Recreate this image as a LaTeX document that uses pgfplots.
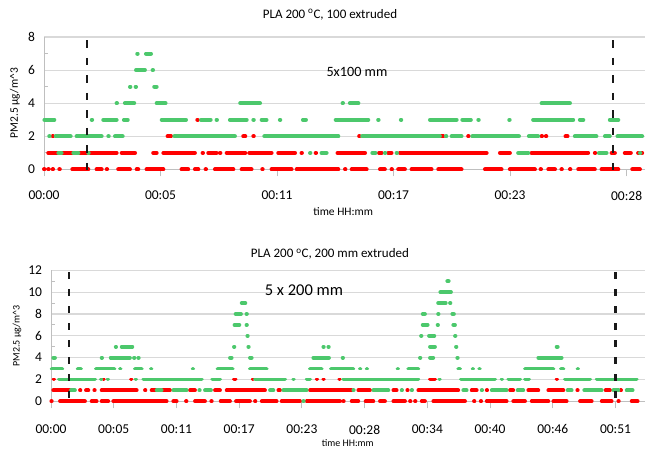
\documentclass[border=0pt]{standalone}
\usepackage{fontspec}
\setmainfont{Carlito}
\usepackage{pgfplots}
\pgfplotsset{compat=1.18}

\definecolor{pmgreen}{RGB}{76,200,108}
\definecolor{pmred}{RGB}{255,0,0}
\definecolor{gridgray}{RGB}{217,217,217}
\definecolor{axgray}{RGB}{191,191,191}

\pgfplotsset{
  pmpanel/.style={
    scale only axis,
    anchor=south west,
    enlargelimits=false,
    clip=false,
    axis x line*=bottom,
    axis y line*=left,
    axis line style={axgray, line width=0.9bp},
    ymajorgrids=true,
    grid style={gridgray, line width=1.1bp},
    tick align=outside,
    major tick length=7bp,
    minor tick length=4bp,
    major x tick style={axgray, line width=0.9bp},
    major y tick style={draw=none},
    minor y tick num=1,
    minor y tick style={axgray, line width=0.9bp, xshift=4bp},
    /pgf/number format/assume math mode=true,
    tick label style={font=\fontsize{13.5bp}{16bp}\selectfont},
    yticklabel style={xshift=1.5bp},
    title style={font=\fontsize{13bp}{16bp}\selectfont, anchor=base},
  },
  reddots/.style={pmred, line width=4bp, line cap=round, unbounded coords=jump},
  greendots/.style={pmgreen, line width=4bp, line cap=round, unbounded coords=jump},
  cutline/.style={black!90, line width=2.2bp, dash pattern=on 7.5bp off 10bp},
}

\begin{document}
\begin{tikzpicture}
\useasboundingbox (0,0) rectangle (646bp,450bp);

% ---------------- upper panel: 5x100 mm ----------------
\begin{axis}[pmpanel,
    at={(44bp,280.5bp)}, width=600.8bp, height=132.5bp,
    xmin=0, xmax=29.7, ymin=0, ymax=8,
    xtick={0,5.76,11.52,17.28,23.04,28.8},
    xticklabels={00:00,00:05,00:11,00:17,00:23,00:28},
    xticklabel style={yshift=-11bp},
    ytick={0,2,4,6,8},
    title={PLA 200 \textsuperscript{o}C, 100 extruded},
    title style={at={(axis description cs:0.476,1.098)}},
]
% red series
\addplot[reddots] coordinates {
(0,0)(0.02,0)(0,nan) (0.21,0)(0.23,0)(0,nan) (0.43,0)(0.45,0)(0,nan) (0.76,0)(0.78,0)(0,nan)
(1.40,0)(2.19,0)(0,nan) (2.60,0)(2.85,0)(0,nan) (3.10,0)(3.12,0)(0,nan) (3.67,0)(4.25,0)(0,nan)
(4.58,0)(4.66,0)(0,nan) (5.07,0)(5.90,0)(0,nan) (6.80,0)(7.13,0)(0,nan) (7.46,0)(7.63,0)(0,nan)
(7.99,0)(8.01,0)(0,nan) (8.45,0)(9.36,0)(0,nan) (9.77,0)(10.26,0)(0,nan) (10.79,0)(10.81,0)(0,nan)
(11.25,0)(12.24,0)(0,nan) (12.49,0)(14.55,0)(0,nan) (14.88,0)(14.90,0)(0,nan) (15.21,0)(15.95,0)(0,nan)
(16.61,0)(16.85,0)(0,nan) (17.18,0)(17.20,0)(0,nan) (17.51,0)(17.84,0)(0,nan) (18.17,0)(19.16,0)(0,nan)
(19.49,0)(20.64,0)(0,nan) (21.80,0)(22.62,0)(0,nan) (23.03,0)(24.27,0)(0,nan) (24.55,0)(24.57,0)(0,nan)
(24.93,0)(25.26,0)(0,nan) (25.58,0)(25.60,0)(0,nan) (26.00,0)(26.02,0)(0,nan) (26.41,0)(27.23,0)(0,nan)
(27.56,0)(28.39,0)(0,nan) (29.08,0)(29.46,0)(0,nan)
(0.21,1)(3.59,1)(0,nan) (3.84,1)(4.50,1)(0,nan) (5.40,1)(5.57,1)(0,nan) (5.90,1)(7.46,1)(0,nan)
(7.84,1)(7.86,1)(0,nan) (8.12,1)(8.53,1)(0,nan) (8.70,1)(8.72,1)(0,nan) (9.03,1)(9.95,1)(0,nan)
(10.15,1)(11.25,1)(0,nan) (11.58,1)(12.41,1)(0,nan) (12.73,1)(12.75,1)(0,nan) (13.43,1)(13.45,1)(0,nan)
(14.51,1)(15.87,1)(0,nan) (16.56,1)(16.69,1)(0,nan) (17.02,1)(17.18,1)(0,nan) (17.59,1)(21.88,1)(0,nan)
(22.54,1)(23.03,1)(0,nan) (24.10,1)(26.90,1)(0,nan) (27.23,1)(27.25,1)(0,nan) (28.06,1)(28.22,1)(0,nan)
(28.71,1)(29.01,1)(0,nan) (29.37,1)(29.57,1)(0,nan)
(0.43,2)(0.45,2)(0,nan) (6.11,2)(6.28,2)(0,nan) (9.85,2)(9.95,2)(0,nan) (10.35,2)(10.37,2)(0,nan)
(15.58,2)(15.60,2)(0,nan) (19.64,2)(19.74,2)(0,nan) (20.97,2)(20.99,2)(0,nan) (24.60,2)(24.62,2)(0,nan)
(24.81,2)(24.83,2)(0,nan) (25.78,2)(25.88,2)(0,nan)
(7.58,3)(7.60,3)
};
% green series
\addplot[greendots] coordinates {
(0.71,1)(0.87,1)(0,nan) (1.45,1)(1.70,1)(0,nan) (2.19,1)(2.21,1)(0,nan) (13.15,1)(13.17,1)(0,nan)
(13.72,1)(13.97,1)(0,nan) (16.23,1)(16.39,1)(0,nan) (16.85,1)(16.87,1)(0,nan) (17.43,1)(17.45,1)(0,nan)
(23.44,1)(23.94,1)(0,nan) (27.43,1)(27.81,1)(0,nan) (29.46,1)(29.48,1)(0,nan)
(0.26,2)(0.28,2)(0,nan) (0.58,2)(1.32,2)(0,nan) (1.61,2)(2.85,2)(0,nan) (3.18,2)(3.20,2)(0,nan)
(3.51,2)(3.89,2)(0,nan) (6.44,2)(9.44,2)(0,nan) (10.89,2)(14.55,2)(0,nan) (15.73,2)(19.57,2)(0,nan)
(19.87,2)(19.89,2)(0,nan) (20.15,2)(20.64,2)(0,nan) (21.17,2)(23.48,2)(0,nan) (23.97,2)(24.43,2)(0,nan)
(26.24,2)(27.31,2)(0,nan) (27.73,2)(27.97,2)(0,nan) (28.35,2)(29.57,2)(0,nan)
(0.02,3)(0.51,3)(0,nan) (2.36,3)(2.38,3)(0,nan) (2.93,3)(3.59,3)(0,nan) (3.95,3)(4.14,3)(0,nan)
(5.82,3)(7.02,3)(0,nan) (7.76,3)(8.24,3)(0,nan) (8.53,3)(8.55,3)(0,nan) (9.19,3)(10.02,3)(0,nan)
(10.35,3)(10.37,3)(0,nan) (10.76,3)(11.00,3)(0,nan) (11.66,3)(11.68,3)(0,nan) (12.80,3)(12.95,3)(0,nan)
(14.42,3)(16.03,3)(0,nan) (16.52,3)(16.54,3)(0,nan) (17.64,3)(17.66,3)(0,nan) (19.08,3)(20.40,3)(0,nan)
(20.68,3)(21.10,3)(0,nan) (21.47,3)(21.49,3)(0,nan) (23.00,3)(23.02,3)(0,nan) (24.18,3)(26.16,3)(0,nan)
(26.49,3)(26.66,3)(0,nan) (27.97,3)(28.39,3)(0,nan)
(3.59,4)(3.61,4)(0,nan) (4.00,4)(4.46,4)(0,nan) (5.57,4)(6.01,4)(0,nan) (9.70,4)(10.68,4)(0,nan)
(14.76,4)(14.78,4)(0,nan) (15.12,4)(15.54,4)(0,nan) (24.60,4)(26.00,4)(0,nan)
(4.25,5)(4.27,5)(0,nan) (4.53,5)(4.55,5)(0,nan) (5.45,5)(5.57,5)(0,nan)
(4.55,6)(4.99,6)(0,nan) (5.37,6)(5.39,6)(0,nan)
(4.61,7)(4.63,7)(0,nan) (5.04,7)(5.29,7)
};
% start / end of extrusion
\addplot[cutline] coordinates {(2.11,7.8) (2.11,-0.1)};
\addplot[cutline] coordinates {(28.14,7.8) (28.14,-0.1)};
\node[font=\fontsize{14.2bp}{17bp}\selectfont] at (axis cs:15.47,5.89) {5x100 mm};
\node[font=\fontsize{11.5bp}{13bp}\selectfont] at (axis description cs:0.498,-0.321) {time HH:mm};
\node[font=\fontsize{11.5bp}{13bp}\selectfont, rotate=90] at (axis description cs:-0.0483,0.5) {PM2.5 µg/m\textasciicircum 3};
\end{axis}

% ---------------- lower panel: 5 x 200 mm ----------------
\begin{axis}[pmpanel,
    at={(51bp,48.7bp)}, width=593.5bp, height=131bp,
    xmin=0, xmax=54.5, ymin=0, ymax=12,
    xtick={0,5.76,11.52,17.28,23.04,28.8,34.56,40.32,46.08,51.84},
    xticklabels={00:00,00:05,00:11,00:17,00:23,00:28,00:34,00:40,00:46,00:51},
    xticklabel style={yshift=-13bp},
    ytick={0,2,4,6,8,10,12},
    title={PLA 200 \textsuperscript{o}C, 200 mm extruded},
    title style={at={(axis description cs:0.47,1.053)}},
    reddots/.append style={line width=3.8bp},
    greendots/.append style={line width=3.8bp},
    cutline/.append style={dash pattern=on 7bp off 10bp},
]
% red series
\addplot[reddots] coordinates {
(0.03,0)(0.07,0)(0,nan) (0.83,0)(3.12,0)(0,nan) (3.73,0)(4.19,0)(0,nan) (4.65,0)(5.26,0)(0,nan)
(5.72,0)(10.62,0)(0,nan) (11.23,0)(11.54,0)(0,nan) (12.40,0)(12.44,0)(0,nan) (13.22,0)(14.14,0)(0,nan)
(14.72,0)(14.76,0)(0,nan) (15.58,0)(16.44,0)(0,nan) (16.99,0)(18.27,0)(0,nan) (18.73,0)(18.77,0)(0,nan)
(19.35,0)(20.72,0)(0,nan) (21.18,0)(22.87,0)(0,nan) (23.48,0)(26.54,0)(0,nan) (26.84,0)(26.88,0)(0,nan)
(27.61,0)(28.22,0)(0,nan) (28.89,0)(29.60,0)(0,nan) (30.21,0)(30.67,0)(0,nan) (31.44,0)(32.51,0)(0,nan)
(32.97,0)(33.01,0)(0,nan) (33.43,0)(33.47,0)(0,nan) (34.04,0)(34.34,0)(0,nan) (35.11,0)(38.02,0)(0,nan)
(38.84,0)(38.88,0)(0,nan) (39.46,0)(39.50,0)(0,nan) (40.01,0)(41.84,0)(0,nan) (42.45,0)(43.53,0)(0,nan)
(44.14,0)(45.67,0)(0,nan) (46.13,0)(47.35,0)(0,nan) (48.58,0)(49.65,0)(0,nan) (50.57,0)(51.48,0)(0,nan)
(52.10,0)(52.14,0)(0,nan) (53.32,0)(53.87,0)(0,nan)
(0.21,1)(1.74,1)(0,nan) (2.66,1)(2.70,1)(0,nan) (3.21,1)(3.43,1)(0,nan) (3.98,1)(4.02,1)(0,nan)
(4.65,1)(7.87,1)(0,nan) (8.63,1)(8.67,1)(0,nan) (9.24,1)(10.93,1)(0,nan) (12.76,1)(13.22,1)(0,nan)
(15.06,1)(15.52,1)(0,nan) (16.13,1)(19.65,1)(0,nan) (20.88,1)(21.03,1)(0,nan) (23.78,1)(27.61,1)(0,nan)
(28.22,1)(29.29,1)(0,nan) (31.44,1)(31.74,1)(0,nan) (32.72,1)(32.76,1)(0,nan) (33.73,1)(37.40,1)(0,nan)
(38.63,1)(39.09,1)(0,nan) (40.01,1)(40.05,1)(0,nan) (42.15,1)(42.45,1)(0,nan) (43.83,1)(44.75,1)(0,nan)
(45.67,1)(47.05,1)(0,nan) (48.33,1)(48.37,1)(0,nan) (50.93,1)(51.33,1)(0,nan) (52.31,1)(52.35,1)(0,nan)
(0.24,2)(0.28,2)(0,nan) (4.81,2)(4.85,2)(0,nan) (7.35,2)(7.39,2)(0,nan) (16.80,2)(16.95,2)(0,nan)
(18.52,2)(18.56,2)(0,nan) (24.40,2)(24.44,2)(0,nan) (25.01,2)(25.05,2)(0,nan) (26.48,2)(26.52,2)(0,nan)
(34.80,2)(35.26,2)(0,nan) (46.43,2)(46.47,2)(0,nan)
(32.96,3)(33.00,3)
};
% green series
\addplot[greendots] coordinates {
(23.17,0)(23.21,0)(0,nan)
(1.84,1)(2.20,1)(0,nan) (9.70,1)(10.16,1)(0,nan) (11.23,1)(12.46,1)(0,nan) (13.62,1)(13.66,1)(0,nan)
(14.14,1)(14.69,1)(0,nan) (20.11,1)(20.42,1)(0,nan) (21.33,1)(23.48,1)(0,nan) (27.76,1)(27.80,1)(0,nan)
(29.60,1)(30.98,1)(0,nan) (32.20,1)(32.24,1)(0,nan) (33.12,1)(33.16,1)(0,nan) (37.86,1)(38.17,1)(0,nan)
(39.55,1)(39.59,1)(0,nan) (40.47,1)(41.84,1)(0,nan) (42.85,1)(43.37,1)(0,nan) (47.44,1)(47.81,1)(0,nan)
(48.97,1)(50.57,1)(0,nan) (51.64,1)(52.10,1)(0,nan) (52.86,1)(53.41,1)(0,nan)
(0.73,2)(4.04,2)(0,nan) (4.59,2)(4.63,2)(0,nan) (5.20,2)(5.24,2)(0,nan) (7.77,2)(7.81,2)(0,nan)
(8.48,2)(13.84,2)(0,nan) (14.81,2)(15.52,2)(0,nan) (18.73,2)(21.49,2)(0,nan) (22.25,2)(22.29,2)(0,nan)
(23.48,2)(23.78,2)(0,nan) (26.84,2)(33.73,2)(0,nan) (35.66,2)(35.70,2)(0,nan) (37.65,2)(40.77,2)(0,nan)
(41.38,2)(41.42,2)(0,nan) (42.00,2)(43.07,2)(0,nan) (43.53,2)(43.89,2)(0,nan) (47.20,2)(49.50,2)(0,nan)
(50.11,2)(53.78,2)(0,nan)
(0.06,3)(1.04,3)(0,nan) (2.45,3)(2.75,3)(0,nan) (4.13,3)(5.82,3)(0,nan) (6.34,3)(6.38,3)(0,nan)
(7.71,3)(8.33,3)(0,nan) (9.18,3)(9.22,3)(0,nan) (13.01,3)(13.05,3)(0,nan) (15.30,3)(16.68,3)(0,nan)
(18.27,3)(19.80,3)(0,nan) (23.78,3)(24.85,3)(0,nan) (25.71,3)(27.76,3)(0,nan) (28.37,3)(28.41,3)(0,nan)
(28.99,3)(29.03,3)(0,nan) (31.83,3)(31.87,3)(0,nan) (32.81,3)(33.73,3)(0,nan) (37.40,3)(37.56,3)(0,nan)
(38.72,3)(38.76,3)(0,nan) (39.33,3)(39.37,3)(0,nan) (43.53,3)(46.13,3)(0,nan) (46.83,3)(47.05,3)(0,nan)
(48.36,3)(48.40,3)(0,nan)
(0.21,4)(0.37,4)(0,nan) (4.65,4)(4.69,4)(0,nan) (5.48,4)(7.25,4)(0,nan) (7.62,4)(7.66,4)(0,nan)
(8.02,4)(8.06,4)(0,nan) (16.44,4)(16.59,4)(0,nan) (18.27,4)(18.43,4)(0,nan) (24.09,4)(25.53,4)(0,nan)
(26.78,4)(26.82,4)(0,nan) (33.88,4)(33.92,4)(0,nan) (34.80,4)(35.10,4)(0,nan) (37.31,4)(37.35,4)(0,nan)
(44.75,4)(46.89,4)(0,nan)
(5.94,5)(5.98,5)(0,nan) (6.49,5)(7.47,5)(0,nan) (16.80,5)(16.84,5)(0,nan) (18.12,5)(18.16,5)(0,nan)
(25.01,5)(25.05,5)(0,nan) (25.47,5)(25.51,5)(0,nan) (34.80,5)(35.26,5)(0,nan) (37.19,5)(37.23,5)(0,nan)
(46.43,5)(46.53,5)(0,nan)
(18.03,6)(18.07,6)(0,nan) (33.98,6)(34.02,6)(0,nan) (34.71,6)(35.20,6)(0,nan) (37.10,6)(37.14,6)(0,nan)
(16.85,7)(17.30,7)(0,nan) (17.95,7)(17.99,7)(0,nan) (34.13,7)(34.59,7)(0,nan) (35.50,7)(35.54,7)(0,nan)
(36.94,7)(37.10,7)(0,nan)
(16.95,8)(17.45,8)(0,nan) (17.95,8)(17.99,8)(0,nan) (34.13,8)(34.34,8)(0,nan) (35.55,8)(35.59,8)(0,nan)
(36.85,8)(37.00,8)(0,nan)
(17.51,9)(17.85,9)(0,nan) (35.55,9)(36.25,9)(0,nan) (36.64,9)(36.68,9)(0,nan)
(35.75,10)(36.73,10)(0,nan)
(36.39,11)(36.52,11)
};
\addplot[cutline] coordinates {(1.68,11.8) (1.68,-0.1)};
\addplot[cutline] coordinates {(51.84,11.8) (51.84,-0.1)};
\node[font=\fontsize{16.5bp}{19bp}\selectfont] at (axis cs:23.23,10.19) {5 x 200 mm};
\node[font=\fontsize{10bp}{12bp}\selectfont] at (axis description cs:0.5,-0.322) {time HH:mm};
\node[font=\fontsize{10bp}{12bp}\selectfont, rotate=90] at (axis description cs:-0.0573,0.5) {PM2.5 µg/m\textasciicircum 3};
\end{axis}
\end{tikzpicture}
\end{document}
